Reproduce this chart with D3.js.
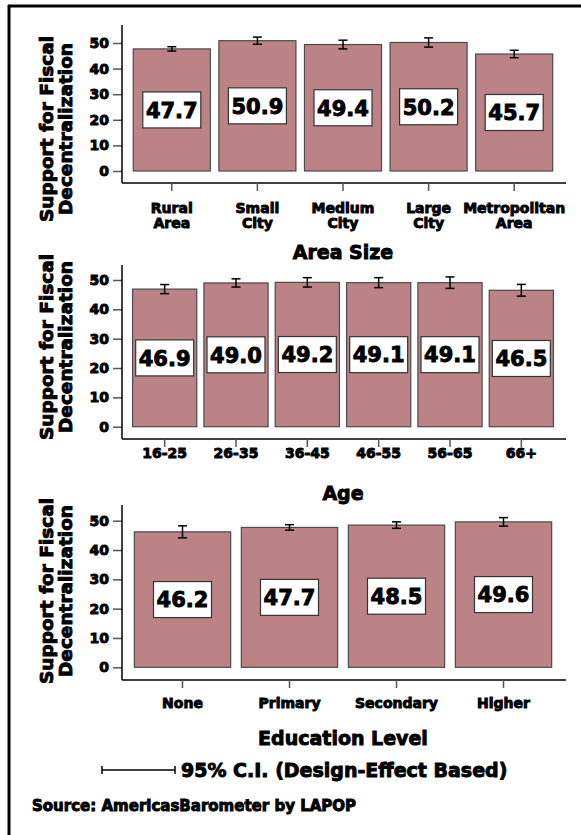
<!DOCTYPE html>
<html>
<head>
<meta charset="utf-8">
<script src="https://cdn.jsdelivr.net/npm/d3@7"></script>
<style>
  body { margin: 0; background: #fff; }
  svg { display: block; font-family: "DejaVu Sans", sans-serif; font-weight: bold; }
  svg text { stroke: #000; stroke-width: 0.9px; paint-order: stroke; }
</style>
</head>
<body>
<div id="chart"></div>
<script>
// Données
const areaLabels = ['Rural\nArea', 'Small\nCity', 'Medium\nCity', 'Large\nCity', 'Metropolitan\nArea'];
const areaValues = [47.7, 50.9, 49.4, 50.2, 45.7];
const areaCI = [0.85, 1.4, 1.7, 1.8, 1.45];

const ageLabels = ['16-25', '26-35', '36-45', '46-55', '56-65', '66+'];
const ageValues = [46.9, 49.0, 49.2, 49.1, 49.1, 46.5];
const ageCI = [1.55, 1.4, 1.6, 1.7, 1.95, 2.0];

const eduLabels = ['None', 'Primary', 'Secondary', 'Higher'];
const eduValues = [46.2, 47.7, 48.5, 49.6];
const eduCI = [2.05, 0.95, 1.1, 1.45];

const yTicks = [0, 10, 20, 30, 40, 50];
const yTitle = ['Support for Fiscal', 'Decentralization'];
const legendText = '95% C.I. (Design-Effect Based)';
const sourceText = 'Source: AmericasBarometer by LAPOP';

const width = 581;
const height = 835;

const svg = d3.select('#chart')
    .append('svg')
    .attr('width', width)
    .attr('height', height);

// Cadre (haut et gauche seulement)
svg.append('line').attr('x1', 8).attr('x2', width).attr('y1', 6).attr('y2', 6)
    .style('stroke', '#000').style('stroke-width', 3);
svg.append('line').attr('x1', 9).attr('x2', 9).attr('y1', 5).attr('y2', height)
    .style('stroke', '#000').style('stroke-width', 3);

// Position de chaque panneau
const panels = [
    { labels: areaLabels, values: areaValues, ci: areaCI, title: 'Area Size',
      y0: 171, y50: 43, axisTop: 25, axisBottom: 183, labelY: 213, titleY: 259, yTitleC: 129 },
    { labels: ageLabels, values: ageValues, ci: ageCI, title: 'Age',
      y0: 426.7, y50: 280, axisTop: 265, axisBottom: 439, labelY: 458, titleY: 500, yTitleC: 347 },
    { labels: eduLabels, values: eduValues, ci: eduCI, title: 'Education Level',
      y0: 667.3, y50: 520.7, axisTop: 505, axisBottom: 680, labelY: 708, titleY: 745, yTitleC: 591 }
];

const axisX = 122;
const axisRight = 566;

panels.forEach(p => drawPanel(p));

function drawPanel(p) {
    const data = p.labels.map((l, i) => ({ label: l, value: p.values[i], ci: p.ci[i] }));

    const x = d3.scaleBand()
        .domain(p.labels)
        .range([129, 557])
        .paddingInner(0.1)
        .paddingOuter(0.05);

    const y = d3.scaleLinear()
        .domain([0, 50])
        .range([p.y0, p.y50]);

    const g = svg.append('g');

    // Axe Y
    const yAxis = g.append('g')
        .attr('transform', `translate(${axisX},0)`)
        .call(d3.axisLeft(y).tickValues(yTicks).tickSize(9).tickPadding(4));
    yAxis.select('.domain').remove();
    yAxis.selectAll('.tick line').style('stroke', '#555').style('stroke-width', 1.5);
    yAxis.selectAll('.tick text')
        .style('font-size', '14px')
        .style('font-family', '"DejaVu Sans", sans-serif')
        .style('font-weight', 'bold')
        .style('fill', '#000');

    g.append('line')
        .attr('x1', axisX).attr('x2', axisX)
        .attr('y1', p.axisTop).attr('y2', p.axisBottom)
        .style('stroke', '#000').style('stroke-width', 1.5);

    // Axe X
    g.append('line')
        .attr('x1', axisX).attr('x2', axisRight)
        .attr('y1', p.axisBottom).attr('y2', p.axisBottom)
        .style('stroke', '#000').style('stroke-width', 1.5);

    g.selectAll('.xtick')
        .data(data)
        .enter()
        .append('line')
        .attr('x1', d => x(d.label) + x.bandwidth() / 2)
        .attr('x2', d => x(d.label) + x.bandwidth() / 2)
        .attr('y1', p.axisBottom)
        .attr('y2', p.axisBottom + 8)
        .style('stroke', '#555')
        .style('stroke-width', 1.5);

    const xl = g.selectAll('.xlabel')
        .data(data)
        .enter()
        .append('text')
        .attr('text-anchor', 'middle')
        .style('font-size', '14px');
    xl.each(function (d) {
        const lines = d.label.split('\n');
        lines.forEach((line, i) => {
            d3.select(this).append('tspan')
                .attr('x', x(d.label) + x.bandwidth() / 2)
                .attr('y', p.labelY + i * 15)
                .text(line);
        });
    });

    // Titre de l'axe X
    g.append('text')
        .attr('x', 343)
        .attr('y', p.titleY)
        .attr('text-anchor', 'middle')
        .style('font-size', '19px')
        .text(p.title);

    // Titre de l'axe Y
    yTitle.forEach((t, i) => {
        g.append('text')
            .attr('transform', `translate(${53 + i * 19},${p.yTitleC}) rotate(-90)`)
            .attr('text-anchor', 'middle')
            .style('font-size', '18.5px')
            .text(t);
    });

    // Barres
    g.selectAll('.bar')
        .data(data)
        .enter()
        .append('rect')
        .attr('x', d => x(d.label))
        .attr('y', d => y(d.value))
        .attr('width', x.bandwidth())
        .attr('height', d => y(0) - y(d.value))
        .style('fill', '#bb8386')
        .style('stroke', '#4a4a4a')
        .style('stroke-width', 1.2);

    // Intervalles de confiance
    const eb = g.selectAll('.err')
        .data(data)
        .enter()
        .append('g');
    eb.append('line')
        .attr('x1', d => x(d.label) + x.bandwidth() / 2)
        .attr('x2', d => x(d.label) + x.bandwidth() / 2)
        .attr('y1', d => y(d.value + d.ci))
        .attr('y2', d => y(d.value - d.ci))
        .style('stroke', '#000').style('stroke-width', 1.5);
    [1, -1].forEach(s => {
        eb.append('line')
            .attr('x1', d => x(d.label) + x.bandwidth() / 2 - 4.5)
            .attr('x2', d => x(d.label) + x.bandwidth() / 2 + 4.5)
            .attr('y1', d => y(d.value + s * d.ci))
            .attr('y2', d => y(d.value + s * d.ci))
            .style('stroke', '#000').style('stroke-width', 1.5);
    });

    // Étiquettes de valeur
    const vl = g.selectAll('.val')
        .data(data)
        .enter()
        .append('g')
        .attr('transform', d => `translate(${x(d.label) + x.bandwidth() / 2},${y(d.value / 2)})`);
    vl.append('rect')
        .attr('x', -29)
        .attr('y', -18)
        .attr('width', 58)
        .attr('height', 36)
        .style('fill', '#fff')
        .style('stroke', '#333')
        .style('stroke-width', 1.2);
    vl.append('text')
        .attr('text-anchor', 'middle')
        .attr('dy', '0.37em')
        .style('font-size', '21px')
        .text(d => d.value.toFixed(1));
}

// Légende
svg.append('line').attr('x1', 102).attr('x2', 175).attr('y1', 770).attr('y2', 770)
    .style('stroke', '#000').style('stroke-width', 1.5);
[102, 175].forEach(xx => {
    svg.append('line').attr('x1', xx).attr('x2', xx).attr('y1', 766).attr('y2', 774)
        .style('stroke', '#000').style('stroke-width', 1.5);
});
svg.append('text')
    .attr('x', 181)
    .attr('y', 777)
    .style('font-size', '19px')
    .text(legendText);

// Source
svg.append('text')
    .attr('x', 32)
    .attr('y', 811)
    .style('font-size', '15px')
    .text(sourceText);
</script>
</body>
</html>
